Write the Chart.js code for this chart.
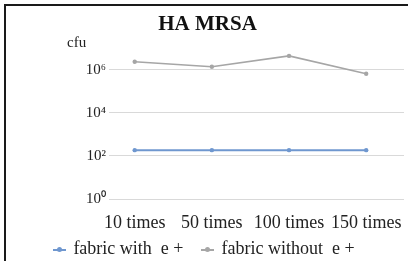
<!DOCTYPE html>
<html>
<head>
<meta charset="utf-8">
<script src="https://cdn.jsdelivr.net/npm/chart.js@4"></script>
<style>
  body { margin: 0; background: #fff; }
  #box { position: relative; width: 408px; height: 261px; overflow: hidden; }
  #chart { display: block; }
  #frame { position: absolute; left: 4px; top: 4px; width: 410px; height: 265px; border-left: 2px solid #1a1a1a; border-top: 2px solid #1a1a1a; pointer-events: none; }
  #cfu { position: absolute; left: 67px; top: 34px; font: 15px "Liberation Serif"; color: #222; }
  #legend { position: absolute; left: 0; width: 408px; top: 238px; line-height: 20px; text-align: center; font: 18px "Liberation Serif"; color: #222; white-space: pre; }
  .item { display: inline-block; margin: 0 9px; }
  .mark { display: inline-block; width: 13px; height: 2px; position: relative; vertical-align: middle; margin-right: 7px; }
  .mark::after { content: ""; position: absolute; left: 4px; top: -2px; width: 5px; height: 5px; border-radius: 50%; background: inherit; }
</style>
</head>
<body>
<div id="box">
  <canvas id="chart" width="408" height="261"></canvas>
  <div id="frame"></div>
  <div id="cfu">cfu</div>
  <div id="legend"></div>
</div>
<script>
// washes
const categories = ["10 times", "50 times", "100 times", "150 times"];
// cfu values
const withE = [185, 185, 185, 185];
const withoutE = [2350000, 1380000, 4400000, 650000];
const seriesNames = ["fabric with  e +", "fabric without  e +"];
const seriesColors = ["#6f97cf", "#a6a6a6"];
// y tick values (every 2 decades)
const yTicks = [1, 100, 10000, 1000000];

const sup = { 0: "\u2070", 2: "\u00b2", 4: "\u2074", 6: "\u2076" };

const toPoints = (arr) => arr.map((v, i) => ({ x: i, y: v }));

let myChart = new Chart(document.getElementById("chart"), {
  type: "line",
  data: {
    datasets: [
      {
        label: seriesNames[0],
        data: toPoints(withE),
        borderColor: seriesColors[0],
        backgroundColor: seriesColors[0],
        borderWidth: 2,
        pointRadius: 2.2,
        pointBorderWidth: 0,
      },
      {
        label: seriesNames[1],
        data: toPoints(withoutE),
        borderColor: seriesColors[1],
        backgroundColor: seriesColors[1],
        borderWidth: 1.6,
        pointRadius: 2.2,
        pointBorderWidth: 0,
      },
    ],
  },
  options: {
    responsive: false,
    animation: false,
    layout: { padding: { left: 10, right: 3, top: 0, bottom: 28 } },
    plugins: {
      legend: { display: false },
      tooltip: { enabled: false },
      title: {
        display: true,
        text: "HA MRSA",
        color: "#111",
        font: { family: "Liberation Serif", size: 21, weight: "bold", lineHeight: 1.2 },
        padding: { top: 12, bottom: 11 },
      },
    },
    scales: {
      x: {
        type: "linear",
        min: -0.333,
        max: 3.49,
        grid: { display: false },
        border: { display: false },
        afterBuildTicks: (scale) => {
          scale.ticks = categories.map((c, i) => ({ value: i }));
        },
        afterFit: (scale) => { scale.height = 34; },
        ticks: {
          autoSkip: false,
          maxRotation: 0,
          padding: 5,
          color: "#222",
          font: { family: "Liberation Serif", size: 18 },
          callback: (v) => categories[v],
        },
      },
      y: {
        type: "logarithmic",
        min: 1,
        max: 10000000,
        grid: { color: "#d9d9d9", lineWidth: 1, drawTicks: false },
        border: { display: false },
        afterBuildTicks: (scale) => {
          scale.ticks = yTicks.map((v) => ({ value: v }));
        },
        afterFit: (scale) => { scale.width = 99; },
        ticks: {
          padding: 3,
          color: "#222",
          font: { family: "Liberation Serif", size: 15 },
          callback: (v) => "10" + sup[Math.round(Math.log10(v))],
        },
      },
    },
  },
});

// html legend, line with a dot like the original
const legend = document.getElementById("legend");
seriesNames.forEach((name, i) => {
  const item = document.createElement("span");
  item.className = "item";
  item.innerHTML = '<span class="mark" style="background:' + seriesColors[i] + '"></span>' + name;
  legend.appendChild(item);
});
</script>
</body>
</html>
